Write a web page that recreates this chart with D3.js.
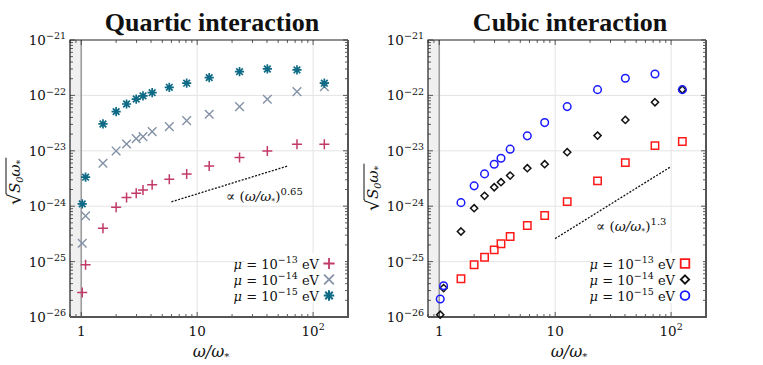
<!DOCTYPE html>
<html>
<head>
<meta charset="UTF-8">
<script src="https://cdn.jsdelivr.net/npm/d3@7"></script>
<style>
  body { margin: 0; background: #fff; }
  text { font-family: "DejaVu Serif", serif; fill: #111; }
  text.title { font-family: "Liberation Serif", serif; font-weight: bold; }
</style>
</head>
<body>
<svg id="chart" width="763" height="365"></svg>
<script>
// omega / omega_* sample points, shared by both panels
const omega = [1.02, 1.09, 1.54, 2.0, 2.46, 2.98, 3.41, 4.09, 5.75, 8.12, 12.7, 23.2, 40.3, 72.6, 125];

// Quartic interaction, sqrt(S0 w*)
const quartic13 = [2.77e-26, 8.75e-26, 4.02e-25, 9.6e-25, 1.43e-24, 1.72e-24, 1.97e-24, 2.43e-24, 3.08e-24, 3.83e-24, 5.34e-24, 7.55e-24, 9.95e-24, 1.31e-23, 1.31e-23];
const quartic14 = [2.15e-25, 6.7e-25, 5.97e-24, 9.95e-24, 1.33e-23, 1.66e-23, 1.80e-23, 2.22e-23, 2.73e-23, 3.5e-23, 4.57e-23, 6.28e-23, 8.5e-23, 1.17e-22, 1.44e-22];
const quartic15 = [1.10e-24, 3.34e-24, 3.05e-23, 5.1e-23, 7.0e-23, 8.6e-23, 9.8e-23, 1.12e-22, 1.40e-22, 1.66e-22, 2.09e-22, 2.68e-22, 3.0e-22, 2.88e-22, 1.66e-22];

// Cubic interaction
const cubic13 = [null, null, 4.9e-26, 8.75e-26, 1.2e-25, 1.63e-25, 2.1e-25, 2.84e-25, 4.48e-25, 6.78e-25, 1.21e-24, 2.86e-24, 6.12e-24, 1.24e-23, 1.47e-23];
const cubic14 = [1.1e-26, 3.33e-26, 3.49e-25, 9.2e-25, 1.54e-24, 2.2e-24, 2.71e-24, 3.57e-24, 4.85e-24, 5.73e-24, 9.44e-24, 1.88e-23, 3.61e-23, 7.52e-23, 1.27e-22];
const cubic15 = [2.11e-26, 3.66e-26, 1.16e-24, 2.33e-24, 3.83e-24, 5.73e-24, 7.35e-24, 1.07e-23, 1.86e-23, 3.23e-23, 6.28e-23, 1.27e-22, 2.04e-22, 2.44e-22, 1.27e-22];

// power-law guide lines (endpoints)
const quarticGuide = [[6, 1.2e-24], [60, 5.3e-24]];
const cubicGuide = [[10, 2.6e-25], [100, 5.2e-24]];

const muExps = [-13, -14, -15];
const yTickExps = [-21, -22, -23, -24, -25, -26];
const xTicks = [1, 10, 100];

const svg = d3.select("#chart");

// marker path builders
const shapes = {
  plus: s => `M${-s},0H${s}M0,${-s}V${s}`,
  cross: s => `M${-s},${-s}L${s},${s}M${-s},${s}L${s},${-s}`,
  star: s => { let c = s * 0.72; return `M${-s},0H${s}M0,${-s}V${s}M${-c},${-c}L${c},${c}M${-c},${c}L${c},${-c}`; },
  square: s => `M${-s},${-s}H${s}V${s}H${-s}Z`,
  diamond: s => `M0,${-s}L${s},0L0,${s}L${-s},0Z`,
  circle: s => `M${s},0A${s},${s},0,1,1,${-s},0A${s},${s},0,1,1,${s},0Z`
};

function pow10(textSel, exp, size, supSize) {
  textSel.append("tspan").attr("font-size", size).text("10");
  textSel.append("tspan").attr("font-size", supSize).attr("dy", -size * 0.42).text(exp < 0 ? "\u2212" + (-exp) : exp);
}

function drawPanel(opt) {
  const x = d3.scaleLog().domain([0.8, 200]).range([opt.left, opt.right]);
  const y = d3.scaleLog().domain([1e-26, 1e-21]).range([317, 40]);
  const g = svg.append("g");

  // shaded band below omega = omega_*
  g.append("rect").attr("x", x(0.8)).attr("y", y(1e-21))
    .attr("width", x(1) - x(0.8)).attr("height", y(1e-26) - y(1e-21))
    .attr("fill", "#f0f0f0");

  // grid
  g.selectAll(".hg").data(yTickExps.slice(1, -1)).join("line")
    .attr("x1", x(0.8)).attr("x2", x(200))
    .attr("y1", d => y(Math.pow(10, d))).attr("y2", d => y(Math.pow(10, d)))
    .attr("stroke", "#e4e4e4").attr("stroke-width", 1);
  g.selectAll(".vg").data([10, 100]).join("line")
    .attr("x1", d => x(d)).attr("x2", d => x(d))
    .attr("y1", y(1e-21)).attr("y2", y(1e-26))
    .attr("stroke", "#e4e4e4").attr("stroke-width", 1);
  g.append("line").attr("x1", x(1)).attr("x2", x(1))
    .attr("y1", y(1e-21)).attr("y2", y(1e-26))
    .attr("stroke", "#9c9c9c").attr("stroke-width", 1.6);

  // ticks (inside, on all four sides)
  const yMinor = [];
  for (let e = -26; e < -21; e++) for (let m = 2; m < 10; m++) yMinor.push(m * Math.pow(10, e));
  const xMinor = [];
  for (let e = -1; e < 3; e++) for (let m = 1; m < 10; m++) {
    const v = m * Math.pow(10, e);
    if (v >= 0.8 && v <= 200 && m !== 1) xMinor.push(v);
  }
  const tk = g.append("g").attr("stroke", "#333").attr("stroke-width", 0.8);
  yMinor.forEach(v => {
    tk.append("line").attr("x1", x(0.8)).attr("x2", x(0.8) + 3).attr("y1", y(v)).attr("y2", y(v));
    tk.append("line").attr("x1", x(200)).attr("x2", x(200) - 3).attr("y1", y(v)).attr("y2", y(v));
  });
  yTickExps.forEach(e => {
    const v = Math.pow(10, e);
    tk.append("line").attr("x1", x(0.8)).attr("x2", x(0.8) + 5).attr("y1", y(v)).attr("y2", y(v));
    tk.append("line").attr("x1", x(200)).attr("x2", x(200) - 5).attr("y1", y(v)).attr("y2", y(v));
  });
  xMinor.forEach(v => {
    tk.append("line").attr("x1", x(v)).attr("x2", x(v)).attr("y1", y(1e-26)).attr("y2", y(1e-26) - 3);
    tk.append("line").attr("x1", x(v)).attr("x2", x(v)).attr("y1", y(1e-21)).attr("y2", y(1e-21) + 3);
  });
  xTicks.forEach(v => {
    tk.append("line").attr("x1", x(v)).attr("x2", x(v)).attr("y1", y(1e-26)).attr("y2", y(1e-26) - 5);
    tk.append("line").attr("x1", x(v)).attr("x2", x(v)).attr("y1", y(1e-21)).attr("y2", y(1e-21) + 5);
  });

  // box
  g.append("path").attr("d", `M${x(0.8)},${y(1e-26)}V${y(1e-21)}H${x(200)}`)
    .attr("fill", "none").attr("stroke", "#222").attr("stroke-width", 1.2);
  g.append("path").attr("d", `M${x(0.8)},${y(1e-26)}H${x(200)}V${y(1e-21)}`)
    .attr("fill", "none").attr("stroke", "#555").attr("stroke-width", 2);

  // tick labels
  yTickExps.forEach(e => {
    const t = g.append("text").attr("x", x(0.8) - 4).attr("y", y(Math.pow(10, e)) + 5)
      .attr("text-anchor", "end");
    pow10(t, e, 13.5, 9.5);
  });
  xTicks.forEach(v => {
    const t = g.append("text").attr("x", x(v)).attr("y", 336).attr("text-anchor", "middle");
    if (v === 1) t.attr("font-size", 13.5).text("1");
    else if (v === 10) t.attr("font-size", 13.5).text("10");
    else pow10(t, 2, 13.5, 9.5);
  });

  // axis labels
  const xl = g.append("text").attr("x", (opt.left + opt.right) / 2 + 2).attr("y", 357)
    .attr("text-anchor", "middle").attr("font-size", 16).attr("font-style", "italic");
  xl.append("tspan").text("\u03c9/\u03c9");
  xl.append("tspan").attr("font-size", 10).attr("dy", 3).text("*");

  const yl = g.append("g").attr("transform", `translate(${opt.left - 49},${opt.ylabelY}) rotate(-90)`);
  yl.append("text").attr("x", -26).attr("y", 0).attr("font-size", 18).text("\u221a");
  const ylt = yl.append("text").attr("x", -14).attr("y", -1).attr("font-size", 15).attr("font-style", "italic");
  ylt.append("tspan").text("S");
  ylt.append("tspan").attr("font-size", 9.5).attr("dy", 3).text("0");
  ylt.append("tspan").attr("dy", -3).text("\u03c9");
  ylt.append("tspan").attr("font-size", 9.5).attr("dy", 3).text("*");
  const tl = ylt.node().getComputedTextLength();
  yl.append("line").attr("x1", -15).attr("x2", -14 + tl + 2).attr("y1", -15).attr("y2", -15)
    .attr("stroke", "#111").attr("stroke-width", 1);

  // title
  g.append("text").attr("class", "title").attr("x", (opt.left + opt.right) / 2 + 3).attr("y", 31)
    .attr("text-anchor", "middle").attr("font-size", 26).text(opt.title);

  // guide line and its label
  g.append("line")
    .attr("x1", x(opt.guide[0][0])).attr("y1", y(opt.guide[0][1]))
    .attr("x2", x(opt.guide[1][0])).attr("y2", y(opt.guide[1][1]))
    .attr("stroke", "#111").attr("stroke-width", 1.3).attr("stroke-dasharray", "2,1.5");
  const gt = g.append("text").attr("x", opt.guideLabel[0]).attr("y", opt.guideLabel[1]).attr("font-size", 13.5);
  gt.append("tspan").text("\u221d (");
  gt.append("tspan").attr("font-style", "italic").text("\u03c9/\u03c9");
  gt.append("tspan").attr("font-size", 8).attr("dy", 3).attr("font-style", "italic").text("*");
  gt.append("tspan").attr("dy", -3).text(")");
  gt.append("tspan").attr("font-size", 10).attr("dy", -6).text(opt.guideExp);

  // legend background
  g.append("rect").attr("x", opt.legendBox[0]).attr("y", 253)
    .attr("width", opt.legendBox[1]).attr("height", 50).attr("fill", "#fff");

  // series
  opt.series.forEach((s, i) => {
    const pts = omega.map((w, j) => [w, s.values[j]]).filter(d => d[1] != null);
    g.append("g").selectAll("path").data(pts).join("path")
      .attr("transform", d => `translate(${x(d[0])},${y(d[1])})`)
      .attr("d", shapes[s.shape](s.size))
      .attr("fill", "none").attr("stroke", s.color).attr("stroke-width", s.width);

    const ly = 263.5 + i * 16;
    const lt = g.append("text").attr("x", opt.legendX - 10).attr("y", ly + 5)
      .attr("text-anchor", "end").attr("font-size", 13);
    lt.append("tspan").attr("font-style", "italic").text("\u03bc");
    lt.append("tspan").text(" = 10");
    lt.append("tspan").attr("font-size", 9.5).attr("dy", -6).text("\u2212" + (-muExps[i]));
    lt.append("tspan").attr("dy", 6).text(" eV");
    g.append("path").attr("transform", `translate(${opt.legendX},${ly})`)
      .attr("d", shapes[s.shape](s.size + 0.6))
      .attr("fill", "none").attr("stroke", s.color).attr("stroke-width", s.width + 0.3);
  });
}

drawPanel({
  left: 70, right: 348, ylabelY: 179, title: "Quartic interaction",
  guide: quarticGuide, guideLabel: [226, 201], guideExp: "0.65",
  legendX: 329, legendBox: [245, 100],
  series: [
    { values: quartic13, shape: "plus", size: 5, color: "#c23a67", width: 1.5 },
    { values: quartic14, shape: "cross", size: 4.3, color: "#8391a6", width: 1.4 },
    { values: quartic15, shape: "star", size: 4.6, color: "#0f6a86", width: 1.7 }
  ]
});

drawPanel({
  left: 428, right: 706, ylabelY: 185, title: "Cubic interaction",
  guide: cubicGuide, guideLabel: [596, 231], guideExp: "1.3",
  legendX: 685, legendBox: [595, 108],
  series: [
    { values: cubic13, shape: "square", size: 3.7, color: "#ff1a1a", width: 1.5 },
    { values: cubic14, shape: "diamond", size: 3.6, color: "#111", width: 1.5 },
    { values: cubic15, shape: "circle", size: 3.8, color: "#1a1aff", width: 1.5 }
  ]
});
</script>
</body>
</html>
